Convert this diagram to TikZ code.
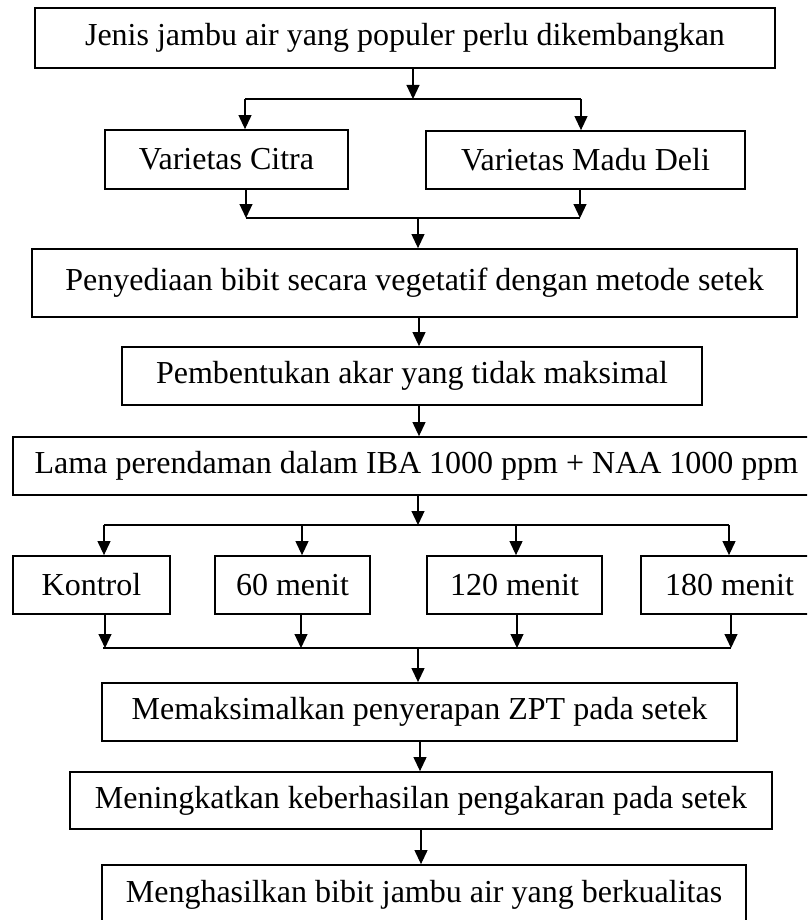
\documentclass[tikz,border=0pt]{standalone}
\usepackage{fontspec}
\setmainfont{Liberation Serif}
\usetikzlibrary{arrows.meta}
\begin{document}
\begin{tikzpicture}[x=1pt,y=-1pt,
  box/.style={draw=black, line width=1.8pt, rectangle, inner sep=0pt, anchor=center,
    font=\fontsize{32}{36}\selectfont},
  conn/.style={draw=black, line width=1.1pt},
  arr/.style={conn, -{Triangle[length=14pt,width=13pt]}}]
\clip (0,0) rectangle (807,920);
\fill[white] (0,0) rectangle (807,920);
% boxes
\node[box, minimum width=740pt, minimum height=60pt] (b1) at (405,38) {Jenis jambu air yang populer perlu dikembangkan};
\node[box, minimum width=243pt, minimum height=59pt] (citra) at (226.5,159.5) {Varietas Citra};
\node[box, minimum width=319pt, minimum height=58pt] (madu) at (585.5,160) {Varietas Madu Deli};
\node[box, minimum width=765pt, minimum height=68pt] (b3) at (414.5,283) {Penyediaan bibit secara vegetatif dengan metode setek};
\node[box, minimum width=580pt, minimum height=58pt] (b4) at (412,376) {Pembentukan akar yang tidak maksimal};
\node[box, minimum width=807pt, minimum height=58pt] (b5) at (416.5,466) {Lama perendaman dalam IBA 1000 ppm + NAA 1000 ppm};
\node[box, minimum width=157pt, minimum height=58pt] (k0) at (91.5,585) {Kontrol};
\node[box, minimum width=155pt, minimum height=58pt] (k60) at (292.5,585) {60 menit};
\node[box, minimum width=175pt, minimum height=58pt] (k120) at (514.5,585) {120 menit};
\node[box, minimum width=177pt, minimum height=58pt] (k180) at (729.5,585) {180 menit};
\node[box, minimum width=635pt, minimum height=58pt] (b7) at (419.5,712) {Memaksimalkan penyerapan ZPT pada setek};
\node[box, minimum width=702pt, minimum height=57pt] (b8) at (421,800.5) {Meningkatkan keberhasilan pengakaran pada setek};
\node[box, minimum width=644pt, minimum height=60pt] (b9) at (424,895) {Menghasilkan bibit jambu air yang berkualitas};
% junction coordinates
\coordinate (j1) at (413,99);
\coordinate (j1a) at (245,99);
\coordinate (j1b) at (581,99);
\coordinate (j2) at (418,218);
\coordinate (j2a) at (246,218);
\coordinate (j2b) at (580,218);
\coordinate (j3) at (418,525);
\coordinate (j3a) at (104,525);
\coordinate (j3b) at (302,525);
\coordinate (j3c) at (516,525);
\coordinate (j3d) at (729,525);
\coordinate (j4) at (418,648);
\coordinate (j4a) at (105,648);
\coordinate (j4b) at (301,648);
\coordinate (j4c) at (517,648);
\coordinate (j4d) at (731,648);
% top split
\draw[arr] (b1.south -| j1) -- (j1);
\draw[conn] (j1a) -- (j1b);
\draw[arr] (j1a) -- (j1a |- citra.north);
\draw[arr] (j1b) -- (j1b |- madu.north);
% merge
\draw[arr] (citra.south -| j2a) -- (j2a);
\draw[arr] (madu.south -| j2b) -- (j2b);
\draw[conn] (j2a) -- (j2b);
\draw[arr] (j2) -- (j2 |- b3.north);
% chain
\draw[arr] (b3.south -| 419,0) -- (b4.north -| 419,0);
\draw[arr] (b4.south -| 419,0) -- (b5.north -| 419,0);
% four-way split
\draw[arr] (b5.south -| j3) -- (j3);
\draw[conn] (j3a) -- (j3d);
\draw[arr] (j3a) -- (j3a |- k0.north);
\draw[arr] (j3b) -- (j3b |- k60.north);
\draw[arr] (j3c) -- (j3c |- k120.north);
\draw[arr] (j3d) -- (j3d |- k180.north);
% four-way merge
\draw[arr] (k0.south -| j4a) -- (j4a);
\draw[arr] (k60.south -| j4b) -- (j4b);
\draw[arr] (k120.south -| j4c) -- (j4c);
\draw[arr] (k180.south -| j4d) -- (j4d);
\draw[conn] (103,648) -- (j4d);
\draw[arr] (j4) -- (j4 |- b7.north);
% bottom chain
\draw[arr] (b7.south -| 420,0) -- (b8.north -| 420,0);
\draw[arr] (b8.south -| 421,0) -- (b9.north -| 421,0);
\end{tikzpicture}
\end{document}
